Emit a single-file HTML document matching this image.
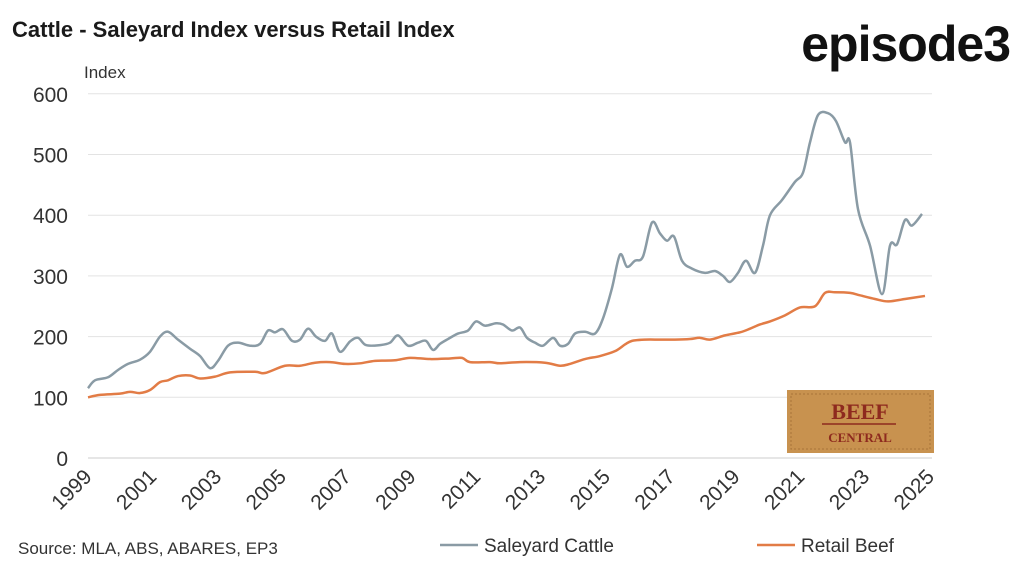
<!DOCTYPE html>
<html><head><style>
body{margin:0;background:#fff;font-family:"Liberation Sans",sans-serif}
</style></head><body>
<svg width="1024" height="568" xmlns="http://www.w3.org/2000/svg" font-family="Liberation Sans, sans-serif">
<text x="12" y="37" font-size="22" font-weight="bold" fill="#1a1a1a">Cattle - Saleyard Index versus Retail Index</text>
<text x="1010" y="61" font-size="50" font-weight="bold" fill="#111" text-anchor="end" letter-spacing="-1">episode3</text>
<text x="84" y="78" font-size="17" fill="#333">Index</text>
<g id="grid" stroke="#e3e3e3" stroke-width="1"></g>
<g id="yl" font-size="21" fill="#333" text-anchor="end"></g>
<g id="xl" font-size="21" fill="#333"></g>
<path id="s1" fill="none" stroke="#8a9ba5" stroke-width="2.5"/>
<path id="s2" fill="none" stroke="#e27c46" stroke-width="2.5"/>
<rect x="787" y="390" width="147" height="63" fill="#c8924f"/>
<rect x="791" y="394" width="139" height="55" fill="none" stroke="#a8743a" stroke-dasharray="2,2"/>
<text x="860" y="419" font-family="Liberation Serif,serif" font-weight="bold" font-size="22" fill="#8e2a1e" text-anchor="middle">BEEF</text>
<line x1="822" y1="424" x2="896" y2="424" stroke="#8e2a1e" stroke-width="1.5"/>
<text x="860" y="442" font-family="Liberation Serif,serif" font-weight="bold" font-size="13" fill="#8e2a1e" text-anchor="middle">CENTRAL</text>
<text x="18" y="554" font-size="17" fill="#333">Source: MLA, ABS, ABARES, EP3</text>
<line x1="440" y1="545" x2="478" y2="545" stroke="#8a9ba5" stroke-width="2.5"/>
<text x="484" y="552" font-size="19" fill="#333">Saleyard Cattle</text>
<line x1="757" y1="545" x2="795" y2="545" stroke="#e27c46" stroke-width="2.5"/>
<text x="801" y="552" font-size="19" fill="#333">Retail Beef</text>
</svg>
<script>
const Y=v=>458-0.607*v;
const g=document.getElementById('grid'),yl=document.getElementById('yl'),xl=document.getElementById('xl');
const NS='http://www.w3.org/2000/svg';
for(let v=0;v<=600;v+=100){let l=document.createElementNS(NS,'line');l.setAttribute('x1',88);l.setAttribute('x2',932);l.setAttribute('y1',Y(v));l.setAttribute('y2',Y(v));if(v==0)l.setAttribute('stroke','#ccc');g.appendChild(l);
let t=document.createElementNS(NS,'text');t.setAttribute('x',68);t.setAttribute('y',Y(v)+8);t.textContent=v;yl.appendChild(t);}
for(let i=0;i<14;i++){let yr=1999+2*i,x=88+i*64.8;let t=document.createElementNS(NS,'text');t.setAttribute('transform',`translate(${x+5},${478}) rotate(-45)`);t.setAttribute('text-anchor','end');t.textContent=yr;xl.appendChild(t);}
function path(d){let p=d.map(a=>[a[0],Y(a[1])]);let s=`M${p[0][0]},${p[0][1]}`;for(let i=0;i<p.length-1;i++){let p0=p[i-1]||p[i],p1=p[i],p2=p[i+1],p3=p[i+2]||p2;s+=` C${p1[0]+(p2[0]-p0[0])/6},${p1[1]+(p2[1]-p0[1])/6} ${p2[0]-(p3[0]-p1[0])/6},${p2[1]-(p3[1]-p1[1])/6} ${p2[0]},${p2[1]}`;}return s;}
const s1=[[88,115],[95,128],[108,133],[118,145],[128,155],[140,162],[150,175],[160,200],[168,208],[178,195],[190,180],[200,168],[210,148],[218,160],[228,185],[238,190],[250,185],[260,188],[268,210],[275,207],[283,212],[292,193],[300,195],[308,213],[316,200],[325,193],[332,205],[340,175],[350,192],[358,198],[366,186],[380,186],[390,190],[398,202],[408,185],[418,190],[426,193],[433,178],[440,188],[448,196],[458,205],[468,210],[476,225],[485,218],[496,222],[503,220],[512,210],[520,215],[527,198],[535,190],[543,185],[553,198],[560,185],[568,188],[575,205],[585,208],[595,205],[603,230],[612,280],[620,335],[627,315],[635,325],[643,332],[652,388],[660,370],[667,358],[674,365],[682,325],[692,312],[705,305],[715,308],[723,300],[730,290],[738,305],[746,325],[755,305],[763,350],[770,400],[782,425],[795,455],[803,470],[810,520],[818,565],[828,568],[836,555],[845,520],[850,520],[858,410],[870,350],[882,270],[890,350],[897,352],[905,392],[912,383],[922,402]];
const s2=[[88,100],[100,104],[120,106],[130,109],[140,107],[150,112],[160,125],[168,128],[178,135],[190,136],[200,131],[215,134],[230,141],[255,142],[265,140],[285,152],[300,152],[315,157],[330,158],[345,155],[360,156],[375,160],[395,161],[410,165],[430,163],[450,164],[462,165],[470,158],[490,158],[500,156],[520,158],[545,157],[560,152],[570,155],[585,163],[600,168],[615,176],[625,187],[632,193],[645,195],[660,195],[675,195],[690,196],[700,198],[710,195],[725,202],[740,207],[750,213],[760,220],[770,225],[785,235],[800,248],[815,250],[825,272],[835,273],[850,272],[860,268],[875,262],[888,258],[905,262],[925,267]];
document.getElementById('s1').setAttribute('d',path(s1));
document.getElementById('s2').setAttribute('d',path(s2));
</script>
</body></html>
